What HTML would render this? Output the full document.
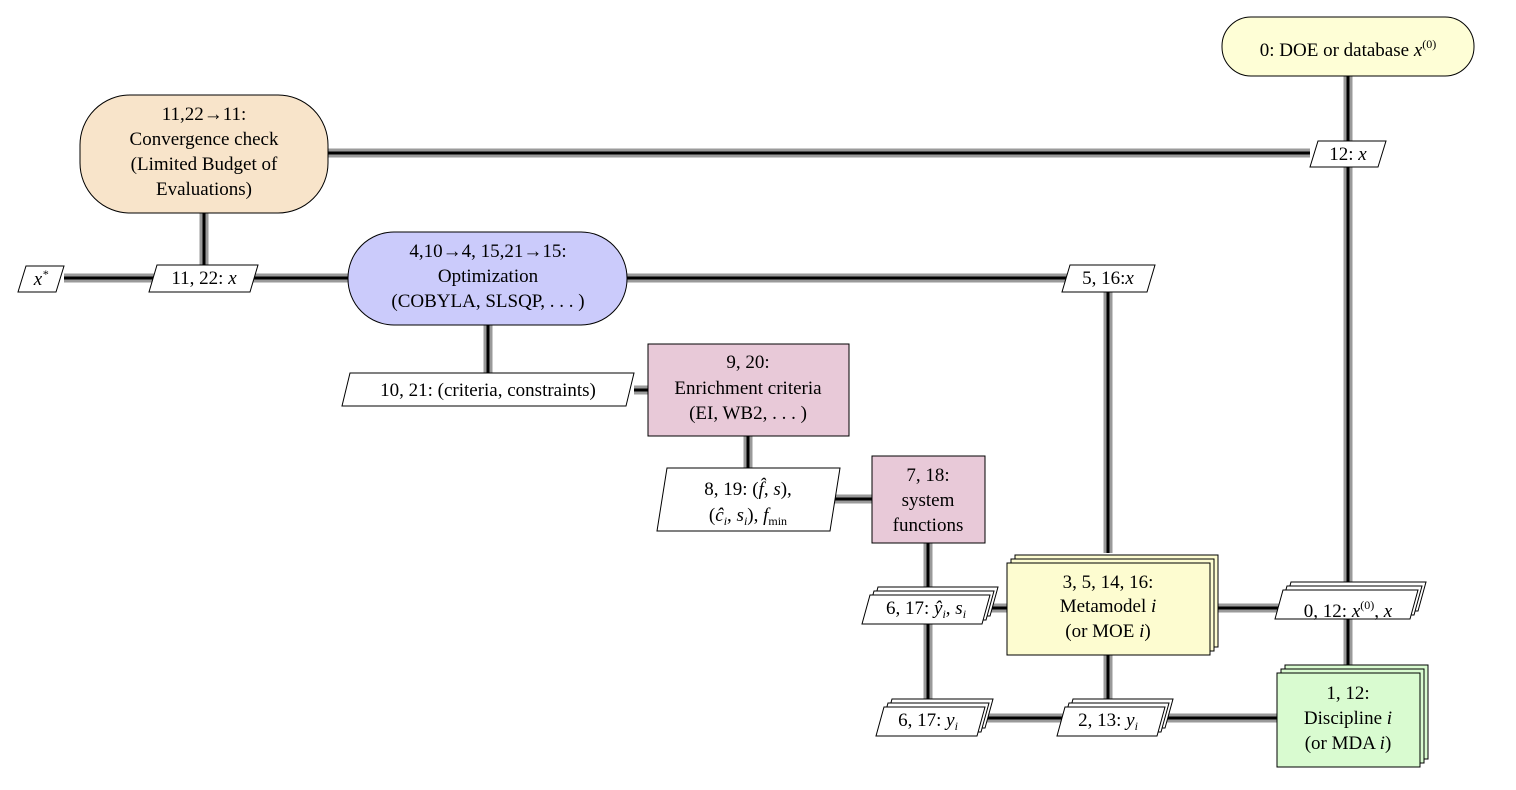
<!DOCTYPE html>
<html><head><meta charset="utf-8"><style>
html,body{margin:0;padding:0;background:#fff;}
svg text{font-family:"Liberation Serif","DejaVu Serif",serif;font-size:19px;text-anchor:middle;fill:#000;}
.i{font-style:italic;}
</style></head><body>
<svg width="1516" height="785" viewBox="0 0 1516 785" xmlns="http://www.w3.org/2000/svg">
<g stroke="#9a9a9a" stroke-width="9" fill="none">
<path d="M1348 76V665M328 153H1310M204 213V278M64 278H1150M1108 292V553M488 325V376M634 390H648M748 436V468M833 499H872M928 543V707M990 608H1007M1210 608H1280M985 718H1277M1108 655V707"/>
</g>
<g stroke="#000" stroke-width="3" fill="none">
<path d="M1348 76V665M328 153H1310M204 213V278M64 278H1150M1108 292V553M488 325V376M634 390H648M748 436V468M833 499H872M928 543V707M990 608H1007M1210 608H1280M985 718H1277M1108 655V707"/>
</g>
<g stroke="#000" stroke-width="1">
<rect x="1222" y="17" width="252" height="59" rx="29" fill="#fefed6"/>
<rect x="80" y="95" width="248" height="118" rx="50" fill="#f8e4ca"/>
<rect x="348" y="232" width="279" height="93" rx="46" fill="#cbcbfb"/>
<rect x="648" y="344" width="201" height="92" fill="#e8c9d8"/>
<rect x="872" y="456" width="113" height="87" fill="#e8c9d8"/>
<rect x="1015" y="555" width="203" height="92" fill="#fdfcd0"/>
<rect x="1011" y="559" width="203" height="92" fill="#fdfcd0"/>
<rect x="1007" y="563" width="203" height="92" fill="#fdfcd0"/>
<rect x="1285" y="665" width="143" height="94" fill="#d9fbd0"/>
<rect x="1281" y="669" width="143" height="94" fill="#d9fbd0"/>
<rect x="1277" y="673" width="143" height="94" fill="#d9fbd0"/>
<g fill="#fff">
<polygon points="1318,141 1386,141 1378,167 1310,167"/>
<polygon points="26,266 64,266 56,292 18,292"/>
<polygon points="157,265 258,265 250,292 149,292"/>
<polygon points="1070,265 1155,265 1147,292 1062,292"/>
<polygon points="350,373 634,373 626,406 342,406"/>
<polygon points="667,468 840,468 830,531 657,531"/>
<polygon points="878,587 998,587 990,616 870,616"/>
<polygon points="874,591 994,591 986,620 866,620"/>
<polygon points="870,595 990,595 982,624 862,624"/>
<polygon points="1291,582 1426,582 1418,611 1283,611"/>
<polygon points="1287,586 1422,586 1414,615 1279,615"/>
<polygon points="1283,590 1418,590 1410,619 1275,619"/>
<polygon points="892,699 993,699 985,728 884,728"/>
<polygon points="888,703 989,703 981,732 880,732"/>
<polygon points="884,707 985,707 977,736 876,736"/>
<polygon points="1073,699 1173,699 1165,728 1065,728"/>
<polygon points="1069,703 1169,703 1161,732 1061,732"/>
<polygon points="1065,707 1165,707 1157,736 1057,736"/>
</g>
</g>
<text x="1348" y="56">0: DOE or database <tspan class="i">x</tspan><tspan dy="-8" font-size="12">(0)</tspan></text>
<text x="204" y="120">11,22→11:</text>
<text x="204" y="145">Convergence check</text>
<text x="204" y="170">(Limited Budget of</text>
<text x="204" y="195">Evaluations)</text>
<text x="1348" y="160">12: <tspan class="i">x</tspan></text>
<text x="41" y="285" class="i">x<tspan dy="-7" font-size="12">*</tspan></text>
<text x="204" y="284">11, 22: <tspan class="i">x</tspan></text>
<text x="488" y="257">4,10→4, 15,21→15:</text>
<text x="488" y="282">Optimization</text>
<text x="488" y="307">(COBYLA, SLSQP, . . . )</text>
<text x="1108" y="284">5, 16:<tspan class="i">x</tspan></text>
<text x="488" y="396">10, 21: (criteria, constraints)</text>
<text x="748" y="368">9, 20:</text>
<text x="748" y="394">Enrichment criteria</text>
<text x="748" y="419">(EI, WB2, . . . )</text>
<text x="748" y="495">8, 19: (<tspan class="i">f̂</tspan>, <tspan class="i">s</tspan>),</text>
<text x="748" y="521">(<tspan class="i">ĉ<tspan font-size="12" dy="4">i</tspan></tspan><tspan dy="-4">, </tspan><tspan class="i">s<tspan font-size="12" dy="4">i</tspan></tspan><tspan dy="-4">), </tspan><tspan class="i">f</tspan><tspan font-size="12" dy="4">min</tspan></text>
<text x="928" y="481">7, 18:</text>
<text x="928" y="506">system</text>
<text x="928" y="531">functions</text>
<text x="926" y="614">6, 17: <tspan class="i">ŷ<tspan font-size="12" dy="4">i</tspan></tspan><tspan dy="-4">, </tspan><tspan class="i">s<tspan font-size="12" dy="4">i</tspan></tspan></text>
<text x="1108" y="588">3, 5, 14, 16:</text>
<text x="1108" y="612">Metamodel <tspan class="i">i</tspan></text>
<text x="1108" y="637">(or MOE <tspan class="i">i</tspan>)</text>
<text x="1348" y="617">0, 12: <tspan class="i">x</tspan><tspan dy="-8" font-size="12">(0)</tspan><tspan dy="8">, </tspan><tspan class="i">x</tspan></text>
<text x="1348" y="699">1, 12:</text>
<text x="1348" y="724">Discipline <tspan class="i">i</tspan></text>
<text x="1348" y="749">(or MDA <tspan class="i">i</tspan>)</text>
<text x="928" y="726">6, 17: <tspan class="i">y<tspan font-size="12" dy="4">i</tspan></tspan></text>
<text x="1108" y="726">2, 13: <tspan class="i">y<tspan font-size="12" dy="4">i</tspan></tspan></text>
</svg>
</body></html>
